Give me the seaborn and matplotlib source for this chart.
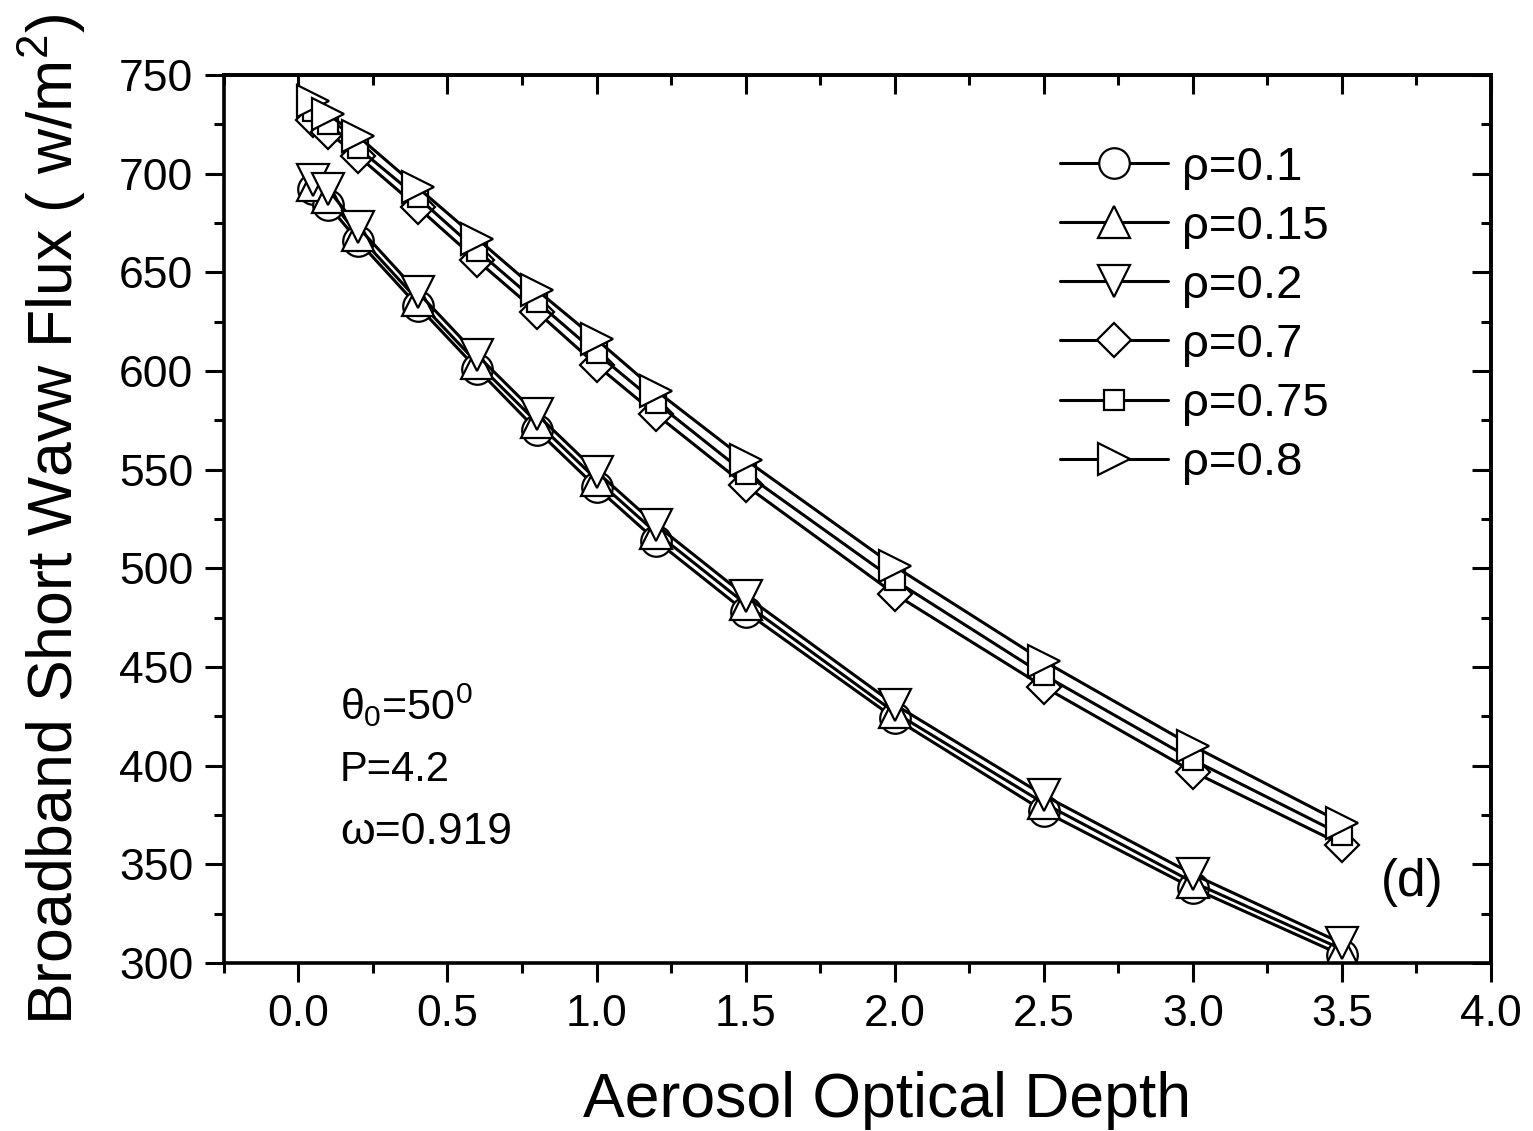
import numpy as np
import pandas as pd
import matplotlib
matplotlib.use("Agg")
import matplotlib.pyplot as plt
import seaborn as sns
from matplotlib.ticker import MultipleLocator
from matplotlib.lines import Line2D

# ---- data ----
aod = [0.05, 0.1, 0.2, 0.4, 0.6, 0.8, 1.0, 1.2, 1.5, 2.0, 2.5, 3.0, 3.5]
labels = ["ρ=0.1", "ρ=0.15", "ρ=0.2", "ρ=0.7", "ρ=0.75", "ρ=0.8"]
flux_01 = [692, 684, 666, 633, 601, 570, 541, 514, 478, 424, 377, 338, 304]
flux_015 = [694, 688, 669, 636, 604, 574, 545, 518, 482, 427, 381, 341, 307]
flux_02 = [697, 692, 673, 640, 608, 578, 549, 522, 486, 431, 385, 345, 310]
flux_07 = [727, 721, 709, 683, 656, 630, 603, 578, 542, 487, 440, 397, 360]
flux_075 = [732, 725, 713, 688, 661, 635, 609, 584, 548, 494, 446, 403, 365]
flux_08 = [737, 730, 719, 693, 667, 641, 616, 590, 555, 501, 453, 410, 371]
series = [flux_01, flux_015, flux_02, flux_07, flux_075, flux_08]
markers = ["o", "^", "v", "D", "s", ">"]
msizes = [22, 23, 23, 17, 15, 23]

rows = []
for lab, vals in zip(labels, series):
    for x, y in zip(aod, vals):
        rows.append({"aod": x, "flux": y, "rho": lab})
df = pd.DataFrame(rows)

sns.set_style("ticks")
plt.rcParams["font.family"] = ["Liberation Sans", "DejaVu Sans"]
plt.rcParams["mathtext.fontset"] = "custom"
plt.rcParams["mathtext.rm"] = "Liberation Sans"
plt.rcParams["mathtext.it"] = "Liberation Sans"
plt.rcParams["mathtext.bf"] = "Liberation Sans:bold"
plt.rcParams["text.color"] = "black"
plt.rcParams["axes.labelcolor"] = "black"
plt.rcParams["xtick.color"] = "black"
plt.rcParams["ytick.color"] = "black"
plt.rcParams["axes.edgecolor"] = "black"

fig = plt.figure(figsize=(15.33, 11.31), dpi=100)
ax = fig.add_axes([0.146, 0.1485, 0.8266, 0.7852])

handles = []
for lab, m, ms in zip(labels, markers, msizes):
    sub = df[df["rho"] == lab]
    sns.lineplot(data=sub, x="aod", y="flux", ax=ax, color="black",
                 linewidth=2.2, marker=m, markersize=ms,
                 markerfacecolor="white", markeredgecolor="black",
                 markeredgewidth=1.6, legend=False, sort=False)
    handles.append(Line2D([], [], color="black", linewidth=2.2, marker=m,
                          markersize=ms, markerfacecolor="white",
                          markeredgecolor="black", markeredgewidth=1.6))

ax.set_xlim(-0.25, 4.0)
ax.set_ylim(300, 750)
ax.xaxis.set_major_locator(MultipleLocator(0.5))
ax.xaxis.set_minor_locator(MultipleLocator(0.25))
ax.yaxis.set_major_locator(MultipleLocator(50))
ax.yaxis.set_minor_locator(MultipleLocator(25))
ax.set_xticks(np.arange(0, 4.01, 0.5))
ax.set_xticklabels([f"{v:.1f}" for v in np.arange(0, 4.01, 0.5)])

for s in ax.spines.values():
    s.set_linewidth(2.6)
    s.set_visible(True)

ax.tick_params(axis="both", which="major", length=14, width=2.2,
               labelsize=32, pad=8, direction="out", color="black",
               labelcolor="black")
ax.tick_params(axis="both", which="minor", length=7, width=2.2,
               direction="out")

# inward ticks on the top and right sides
axt = ax.secondary_xaxis("top")
axt.xaxis.set_major_locator(MultipleLocator(0.5))
axt.xaxis.set_minor_locator(MultipleLocator(0.25))
axt.tick_params(which="major", direction="in", length=14, width=2.2, labeltop=False)
axt.tick_params(which="minor", direction="in", length=7, width=2.2)
axt.spines["top"].set_linewidth(2.6)
axr = ax.secondary_yaxis("right")
axr.yaxis.set_major_locator(MultipleLocator(50))
axr.yaxis.set_minor_locator(MultipleLocator(25))
axr.tick_params(which="major", direction="in", length=14, width=2.2, labelright=False)
axr.tick_params(which="minor", direction="in", length=7, width=2.2)
axr.spines["right"].set_linewidth(2.6)

ax.set_xlabel("Aerosol Optical Depth", fontsize=45, labelpad=26)
ax.xaxis.label.set_x(0.523)
ax.set_ylabel("Broadband Short Wavw Flux ( w/m$^2$)", fontsize=45, labelpad=22)

leg = ax.legend(handles, labels, loc="upper left", bbox_to_anchor=(0.641, 0.947),
                frameon=False, fontsize=34, handlelength=2.3, borderpad=0,
                handletextpad=0.3, labelspacing=0.32)

ax.text(0.0915, 0.29, r"$\theta_0$=50$^0$", transform=ax.transAxes,
        fontsize=31, va="center", ha="left")
ax.text(0.0915, 0.217, "P=4.2", transform=ax.transAxes,
        fontsize=30, va="center", ha="left")
ax.text(0.0915, 0.147, "ω=0.919", transform=ax.transAxes,
        fontsize=32, va="center", ha="left")
ax.text(3.735, 0.091, "(d)", transform=ax.get_xaxis_transform(),
        fontsize=37, va="center", ha="center")

fig.savefig("out.png", dpi=100)
